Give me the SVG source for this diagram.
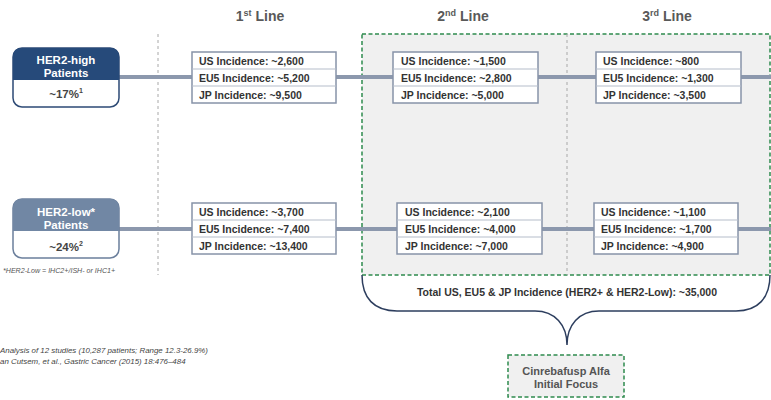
<svg xmlns="http://www.w3.org/2000/svg" width="771" height="400" viewBox="0 0 771 400">
<style>
text{font-family:"Liberation Sans",Arial,sans-serif}
.hdr{font-size:14px;font-weight:bold;fill:#595959;text-anchor:middle}
.box{fill:#fff;stroke:#8793a8;stroke-width:1.5}
.div{stroke:#b5bdca;stroke-width:1}
.bt{font-size:10.5px;font-weight:bold;fill:#333}
.conn{stroke:#8c98ad;stroke-width:4;fill:none}
.vd{stroke:#a8a8a8;stroke-width:1;stroke-dasharray:3,3}
.nt{font-size:11.5px;font-weight:bold;fill:#fff;text-anchor:middle}
.np{font-size:11.5px;font-weight:bold;fill:#444;text-anchor:middle}
.ref{font-size:7.9px;font-style:italic;fill:#444}
</style>
<rect width="771" height="400" fill="#fff"/>
<g id="focus-region">
<rect x="362" y="34" width="408" height="241" fill="#f0f0f0" stroke="#2e8b4e" stroke-width="1.5" stroke-dasharray="4,2.5"/>
</g>
<g id="dividers">
<line class="vd" x1="158" y1="34" x2="158" y2="275"/>
<line class="vd" x1="567" y1="34" x2="567" y2="275"/>
</g>
<g id="headers">
<text class="hdr" x="260" y="21">1<tspan font-size="9" dy="-5">st</tspan><tspan dy="5"> Line</tspan></text>
<text class="hdr" x="463" y="21">2<tspan font-size="9" dy="-5">nd</tspan><tspan dy="5"> Line</tspan></text>
<text class="hdr" x="667" y="21">3<tspan font-size="9" dy="-5">rd</tspan><tspan dy="5"> Line</tspan></text>
</g>
<g id="connectors">
<line class="conn" x1="119" y1="77" x2="192" y2="77"/>
<line class="conn" x1="336" y1="77" x2="393" y2="77"/>
<line class="conn" x1="538" y1="77" x2="596" y2="77"/>
<line class="conn" x1="741" y1="77" x2="771" y2="77"/>
<line class="conn" x1="119" y1="229" x2="192" y2="229"/>
<line class="conn" x1="336" y1="229" x2="397" y2="229"/>
<line class="conn" x1="542" y1="229" x2="594" y2="229"/>
<line class="conn" x1="738" y1="229" x2="771" y2="229"/>
<path id="brace" d="M362,275 C362,298 374,311 397,311 L535,311 C555,311 567,325 567,345 C567,325 579,311 599,311 L736,311 C758,311 770,298 770,275" fill="none" stroke="#2d3e5e" stroke-width="1.5"/>
</g>
<g id="her2-high">
<rect x="13" y="48" width="106" height="59" rx="9" fill="#fff" stroke="#2d4a75" stroke-width="1.5"/>
<path d="M13,80 V57 Q13,48 22,48 H110 Q119,48 119,57 V80 Z" fill="#264a7a"/>
<text class="nt" x="66" y="63.5">HER2-high</text>
<text class="nt" x="66" y="77">Patients</text>
<text class="np" x="66" y="98">~17%<tspan font-size="7" dy="-5">1</tspan></text>
</g>
<g id="her2-low">
<rect x="13" y="199" width="106" height="59" rx="9" fill="#fff" stroke="#6b7f9c" stroke-width="1.5"/>
<path d="M13,231 V208 Q13,199 22,199 H110 Q119,199 119,208 V231 Z" fill="#7187a4"/>
<text class="nt" x="66" y="215.5">HER2-low*</text>
<text class="nt" x="66" y="229">Patients</text>
<text class="np" x="66" y="251">~24%<tspan font-size="7" dy="-5">2</tspan></text>
<text x="3" y="273" font-size="7.1" font-style="italic" fill="#555">*HER2-Low = IHC2+/ISH- or IHC1+</text>
</g>
<g id="high-1st">
<rect class="box" x="192" y="52" width="144" height="51"/>
<line class="div" x1="192" y1="69" x2="336" y2="69"/><line class="div" x1="192" y1="86" x2="336" y2="86"/>
<text class="bt" x="199" y="64.5">US Incidence: ~2,600</text>
<text class="bt" x="199" y="81.5">EU5 Incidence: ~5,200</text>
<text class="bt" x="199" y="98.5">JP Incidence: ~9,500</text>
</g>
<g id="high-2nd">
<rect class="box" x="393" y="52" width="145" height="51"/>
<line class="div" x1="393" y1="69" x2="538" y2="69"/><line class="div" x1="393" y1="86" x2="538" y2="86"/>
<text class="bt" x="401" y="64.5">US Incidence: ~1,500</text>
<text class="bt" x="401" y="81.5">EU5 Incidence: ~2,800</text>
<text class="bt" x="401" y="98.5">JP Incidence: ~5,000</text>
</g>
<g id="high-3rd">
<rect class="box" x="596" y="52" width="145" height="51"/>
<line class="div" x1="596" y1="69" x2="741" y2="69"/><line class="div" x1="596" y1="86" x2="741" y2="86"/>
<text class="bt" x="603" y="64.5">US Incidence: ~800</text>
<text class="bt" x="603" y="81.5">EU5 Incidence: ~1,300</text>
<text class="bt" x="603" y="98.5">JP Incidence: ~3,500</text>
</g>
<g id="low-1st">
<rect class="box" x="192" y="203" width="144" height="51"/>
<line class="div" x1="192" y1="220" x2="336" y2="220"/><line class="div" x1="192" y1="237" x2="336" y2="237"/>
<text class="bt" x="199" y="215.5">US Incidence: ~3,700</text>
<text class="bt" x="199" y="232.5">EU5 Incidence: ~7,400</text>
<text class="bt" x="199" y="249.5">JP Incidence: ~13,400</text>
</g>
<g id="low-2nd">
<rect class="box" x="397" y="203" width="145" height="51"/>
<line class="div" x1="397" y1="220" x2="542" y2="220"/><line class="div" x1="397" y1="237" x2="542" y2="237"/>
<text class="bt" x="405" y="215.5">US Incidence: ~2,100</text>
<text class="bt" x="405" y="232.5">EU5 Incidence: ~4,000</text>
<text class="bt" x="405" y="249.5">JP Incidence: ~7,000</text>
</g>
<g id="low-3rd">
<rect class="box" x="594" y="203" width="144" height="51"/>
<line class="div" x1="594" y1="220" x2="738" y2="220"/><line class="div" x1="594" y1="237" x2="738" y2="237"/>
<text class="bt" x="601" y="215.5">US Incidence: ~1,100</text>
<text class="bt" x="601" y="232.5">EU5 Incidence: ~1,700</text>
<text class="bt" x="601" y="249.5">JP Incidence: ~4,900</text>
</g>
<g id="total">
<text class="bt" x="567" y="296" text-anchor="middle">Total US, EU5 &amp; JP Incidence (HER2+ &amp; HER2-Low): ~35,000</text>
</g>
<g id="initial-focus">
<rect x="508" y="355" width="116" height="42" fill="#f0f0f0" stroke="#2e8b4e" stroke-width="1.5" stroke-dasharray="4,2.5"/>
<text x="566" y="375" font-size="11" font-weight="bold" fill="#555" text-anchor="middle">Cinrebafusp Alfa</text>
<text x="566" y="388" font-size="11" font-weight="bold" fill="#555" text-anchor="middle">Initial Focus</text>
</g>
<g id="references">
<text class="ref" x="0" y="353">Analysis of 12 studies (10,287 patients; Range 12.3-26.9%)</text>
<text class="ref" x="0" y="364">an Cutsem, et al., Gastric Cancer (2015) 18:476–484</text>
</g>
</svg>
